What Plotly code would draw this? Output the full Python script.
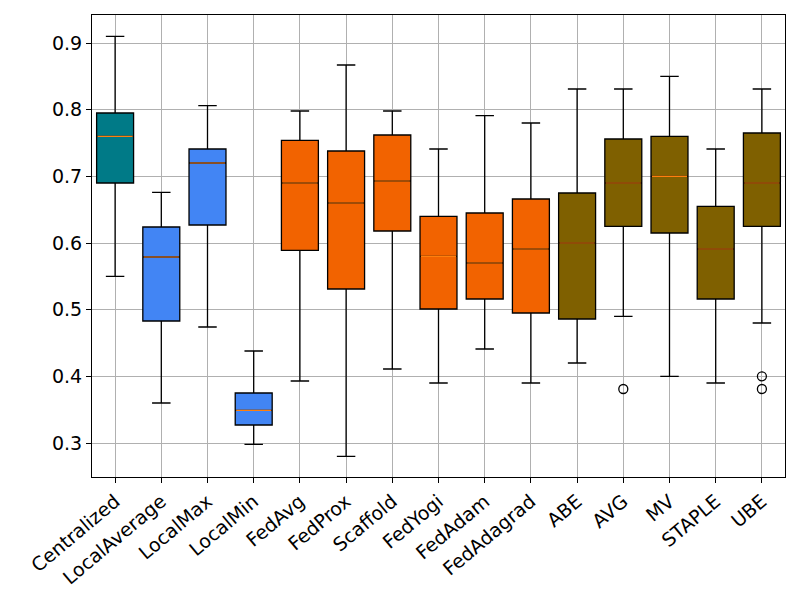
import plotly.graph_objects as go

methods = ["Centralized", "LocalAverage", "LocalMax", "LocalMin", "FedAvg", "FedProx",
           "Scaffold", "FedYogi", "FedAdam", "FedAdagrad", "ABE", "AVG", "MV", "STAPLE", "UBE"]
lower = [0.550, 0.360, 0.474, 0.298, 0.393, 0.280, 0.411, 0.390, 0.441, 0.390, 0.420, 0.490, 0.400, 0.390, 0.480]
q1 = [0.690, 0.483, 0.627, 0.327, 0.589, 0.531, 0.618, 0.501, 0.516, 0.495, 0.486, 0.625, 0.615, 0.516, 0.625]
median = [0.760, 0.579, 0.720, 0.349, 0.690, 0.660, 0.693, 0.580, 0.570, 0.591, 0.600, 0.690, 0.700, 0.591, 0.690]
q3 = [0.795, 0.624, 0.741, 0.375, 0.754, 0.738, 0.762, 0.640, 0.645, 0.666, 0.675, 0.756, 0.760, 0.655, 0.765]
upper = [0.910, 0.676, 0.806, 0.438, 0.798, 0.867, 0.798, 0.741, 0.791, 0.780, 0.831, 0.831, 0.850, 0.741, 0.831]
outlier_method = ["AVG", "UBE", "UBE"]
outlier_value = [0.381, 0.400, 0.381]
groups = ["central", "local", "local", "local", "fed", "fed", "fed", "fed", "fed", "fed",
          "ens", "ens", "ens", "ens", "ens"]
group_colors = {"central": "#007A87", "local": "#4285F4", "fed": "#F26300", "ens": "#7F6000"}
yticks = [0.3, 0.4, 0.5, 0.6, 0.7, 0.8, 0.9]

BOX_W = 0.8
fig = go.Figure()
for i, m in enumerate(methods):
    fig.add_trace(go.Box(
        x=[i], q1=[q1[i]], median=[median[i]], q3=[q3[i]],
        lowerfence=[lower[i]], upperfence=[upper[i]],
        width=BOX_W, whiskerwidth=0.5, boxpoints=False,
        fillcolor=group_colors[groups[i]],
        line=dict(color="black", width=1.3),
        showlegend=False, hoverinfo="skip", name=m,
    ))
# median lines (orange, as matplotlib)
for i, m in enumerate(methods):
    fig.add_trace(go.Scatter(
        x=[i - BOX_W / 2 + 0.02, i + BOX_W / 2 - 0.02], y=[median[i], median[i]],
        mode="lines", line=dict(color="#ff7f0e", width=1.2),
        showlegend=False, hoverinfo="skip",
    ))
fig.add_trace(go.Scatter(
    x=[methods.index(m) for m in outlier_method], y=outlier_value,
    mode="markers",
    marker=dict(symbol="circle-open", size=9, color="black", line=dict(width=1.3)),
    showlegend=False, hoverinfo="skip",
))

font = dict(family="DejaVu Sans", size=19, color="black")
fig.update_layout(
    width=792, height=592,
    margin=dict(l=84, r=15, t=7, b=123),
    plot_bgcolor="white", paper_bgcolor="white",
    font=font, boxmode="overlay",
)
fig.update_xaxes(
    range=[-0.5, len(methods) - 0.5], tickmode="array",
    tickvals=list(range(len(methods))), ticktext=methods,
    tickangle=-40, showgrid=True, gridcolor="#b0b0b0", gridwidth=1,
    showline=True, mirror=True, linecolor="black", linewidth=1,
    ticks="outside", ticklen=5, tickcolor="black", zeroline=False, tickfont=font,
    automargin=False,
)
fig.update_yaxes(
    range=[0.249, 0.942], tickmode="array", tickvals=yticks,
    ticktext=[f"{v:.1f}" for v in yticks],
    showgrid=True, gridcolor="#b0b0b0", gridwidth=1,
    showline=True, mirror=True, linecolor="black", linewidth=1,
    ticks="outside", ticklen=5, tickcolor="black", zeroline=False, tickfont=font,
    automargin=False,
)
fig.write_html("out.html")
